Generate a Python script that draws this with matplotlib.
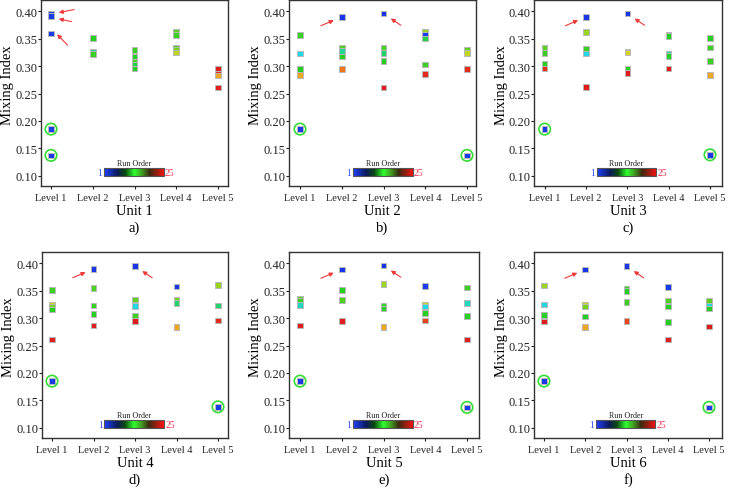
import numpy as np
import matplotlib
matplotlib.use("Agg")
import matplotlib.pyplot as plt
from matplotlib.colors import LinearSegmentedColormap
from matplotlib.patches import Rectangle

plt.rcParams['font.family'] = ['Liberation Serif', 'DejaVu Serif']

levels = ["Level 1", "Level 2", "Level 3", "Level 4", "Level 5"]
units = ["Unit 1", "Unit 2", "Unit 3", "Unit 4", "Unit 5", "Unit 6"]
letters = ["a)", "b)", "c)", "d)", "e)", "f)"]
yticks = [0.10, 0.15, 0.20, 0.25, 0.30, 0.35, 0.40]

# Mixing index values per level, and run order (colour) per point
unit1_values = [[0.3955, 0.3915, 0.360, 0.185, 0.137],
                [0.352, 0.327, 0.322],
                [0.330, 0.318, 0.308, 0.303, 0.296],
                [0.363, 0.357, 0.334, 0.330, 0.325],
                [0.295, 0.287, 0.283, 0.261]]
unit1_order = [[1, 2, 3, 4, 1], [12, 9, 13], [13, 12, 14, 11, 12],
               [15, 13, 14, 16, 18], [25, 24, 21, 25]]

unit2_values = [[0.357, 0.323, 0.295, 0.284, 0.185],
                [0.390, 0.334, 0.328, 0.318, 0.295],
                [0.396, 0.333, 0.324, 0.309, 0.261],
                [0.363, 0.357, 0.351, 0.303, 0.286],
                [0.330, 0.324, 0.295, 0.137]]
unit2_order = [[13, 7, 12, 21, 2], [1, 14, 9, 12, 22], [1, 14, 10, 12, 25],
               [17, 3, 11, 13, 24], [15, 18, 24, 2]]

unit3_values = [[0.334, 0.324, 0.304, 0.296, 0.185],
                [0.390, 0.362, 0.332, 0.323, 0.262],
                [0.396, 0.327, 0.325, 0.295, 0.288],
                [0.358, 0.355, 0.322, 0.319, 0.296],
                [0.352, 0.334, 0.309, 0.284, 0.138]]
unit3_order = [[15, 13, 12, 24, 2], [1, 17, 13, 7, 25], [1, 8, 19, 12, 25],
               [3, 12, 8, 12, 25], [12, 13, 13, 21, 2]]

unit4_values = [[0.352, 0.325, 0.321, 0.316, 0.261, 0.185],
                [0.390, 0.355, 0.323, 0.308, 0.287],
                [0.395, 0.334, 0.322, 0.304, 0.295],
                [0.358, 0.333, 0.328, 0.284],
                [0.361, 0.323, 0.296, 0.138]]
unit4_order = [[13, 19, 16, 12, 25, 2], [1, 14, 13, 12, 25], [1, 15, 7, 13, 25],
               [2, 16, 10, 21], [17, 10, 24, 3]]

unit5_values = [[0.335, 0.331, 0.324, 0.287, 0.185],
                [0.389, 0.352, 0.333, 0.295],
                [0.396, 0.362, 0.323, 0.318, 0.284],
                [0.359, 0.324, 0.321, 0.309, 0.296],
                [0.356, 0.328, 0.304, 0.261, 0.137]]
unit5_order = [[15, 13, 8, 25, 2], [1, 12, 14, 25], [1, 17, 13, 12, 21],
               [3, 19, 7, 12, 23], [13, 8, 12, 25, 3]]

unit6_values = [[0.360, 0.325, 0.306, 0.294, 0.185],
                [0.389, 0.324, 0.321, 0.303, 0.284],
                [0.395, 0.354, 0.350, 0.330, 0.295],
                [0.357, 0.332, 0.321, 0.293, 0.261],
                [0.331, 0.322, 0.318, 0.285, 0.137]]
unit6_order = [[17, 7, 12, 25, 2], [1, 19, 16, 12, 21], [1, 13, 12, 13, 23],
               [3, 14, 12, 12, 25], [15, 7, 12, 25, 3]]

all_values = [unit1_values, unit2_values, unit3_values,
              unit4_values, unit5_values, unit6_values]
all_order = [unit1_order, unit2_order, unit3_order,
             unit4_order, unit5_order, unit6_order]

# colour maps
point_cmap = LinearSegmentedColormap.from_list("pts", [
    (0.0, "#1836e8"), (0.13, "#1840e8"), (0.25, "#22d8e8"), (0.45, "#22d022"),
    (0.62, "#70d020"), (0.72, "#c8d820"), (0.80, "#e8d020"), (0.86, "#f08a20"),
    (0.93, "#e83818"), (1.0, "#e01c1c")])
bar_cmap = LinearSegmentedColormap.from_list("bar", [
    (0.0, "#2040ff"), (0.22, "#0a1a5a"), (0.35, "#0a4a10"), (0.5, "#30ff30"),
    (0.62, "#40a020"), (0.75, "#3a2a10"), (1.0, "#ff1010")])

W, H = 729, 489
fig = plt.figure(figsize=(W / 100, H / 100), dpi=100)
fig.patch.set_facecolor("white")

# layout: left, top, right, bottom (px), px of level1, level5
layout = [
    (41, 1, 228, 187, 51.0, 218.0),
    (289, 1, 476, 187, 300.0, 467.0),
    (534, 1, 722, 187, 544.7, 710.0),
    (42, 253, 228, 439, 52.0, 218.0),
    (289, 253, 479, 439, 300.0, 467.0),
    (534, 253, 722, 439, 544.0, 709.0),
]
ylim = (0.081, 0.421)
red = "#f03838"

for k in range(6):
    l, t, r, b, p1, p5 = layout[k]
    hpx = b - t
    ax = fig.add_axes([l / W, (H - b) / H, (r - l) / W, hpx / H])
    sp = (p5 - p1) / 4
    ax.set_xlim(1 + (l - p1) / sp, 5 + (r - p5) / sp)
    ax.set_ylim(*ylim)
    vals = all_values[k]
    order = all_order[k]
    for i, (v, o) in enumerate(zip(vals, order)):
        x = np.full(len(v), i + 1)
        ax.scatter(x, v, c=(np.array(o) - 1) / 24, cmap=point_cmap, vmin=0, vmax=1,
                   marker="s", s=16, edgecolors="#b8b8b8", linewidths=0.7, zorder=3)
        out = [vv for vv in v if vv < 0.2]
        ax.scatter(np.full(len(out), i + 1), out, s=68, facecolors="none",
                   edgecolors="#33dd33", linewidths=1.2, zorder=4)
    # arrows
    akw = dict(arrowstyle="-|>", color=red, lw=0.8, mutation_scale=6)
    if k == 0:
        top = sorted([vv for vv in vals[0] if vv > 0.3], reverse=True)
        offs = [((0.12, 0.0015), (0.62, 0.009)),
                ((0.12, -0.004), (0.56, -0.011)),
                ((0.10, 0.002), (0.44, -0.025))]
        for vv, (h, tl) in zip(top, offs):
            ax.annotate("", xy=(1 + h[0], vv + h[1]), xytext=(1 + tl[0], vv + tl[1]),
                        arrowprops=akw, zorder=5)
    else:
        m2 = max(vals[1])
        m3 = max(vals[2])
        ax.annotate("", xy=(2 - 0.13, m2 - 0.004), xytext=(2 - 0.56, m2 - 0.018),
                    arrowprops=akw, zorder=5)
        ax.annotate("", xy=(3 + 0.12, m3 - 0.006), xytext=(3 + 0.47, m3 - 0.024),
                    arrowprops=akw, zorder=5)
    # run order colour bar
    x0, x1, y0, y1 = 2.26, 3.70, 0.099, 0.113
    grad = np.linspace(0, 1, 256)[None, :]
    ax.imshow(grad, cmap=bar_cmap, extent=(x0, x1, y0, y1), aspect="auto", zorder=2)
    ax.add_patch(Rectangle((x0, y0), x1 - x0, y1 - y0, fill=False,
                           edgecolor="#555555", lw=0.8, zorder=2.5))
    ax.text((x0 + x1) / 2, y1 + 0.002, "Run Order", ha="center", va="bottom",
            fontsize=5.8, color="#222222")
    ax.text(x0 - 0.04, (y0 + y1) / 2, "1", ha="right", va="center", fontsize=7,
            color="#3050ff")
    ax.text(x1 + 0.03, (y0 + y1) / 2, "25", ha="left", va="center", fontsize=7,
            color="#ff3050")

    ax.set_xticks(range(1, 6))
    ax.set_xticklabels(levels, fontsize=7.5)
    ax.set_yticks(yticks)
    ax.set_yticklabels([f"{v:.2f}" for v in yticks], fontsize=9)
    ax.tick_params(direction="out", length=2.2, width=0.8, colors="#222222")
    ax.tick_params(axis="y", pad=0.6)
    ax.tick_params(axis="x", pad=3.0)
    for s in ax.spines.values():
        s.set_color("#333333")
        s.set_linewidth(1.0)
    ax.set_ylabel("Mixing Index", fontsize=10.5)
    ax.yaxis.set_label_coords(-33 / (r - l), 0.5 + 9 / hpx)
    ax.yaxis.label.set_va("center")
    ax.text(0.5, -25 / hpx, units[k], transform=ax.transAxes, ha="center",
            va="center", fontsize=10.5)
    ax.text(0.5, -41 / hpx, letters[k], transform=ax.transAxes, ha="center",
            va="center", fontsize=10.5)

fig.savefig("out.png", dpi=100)
